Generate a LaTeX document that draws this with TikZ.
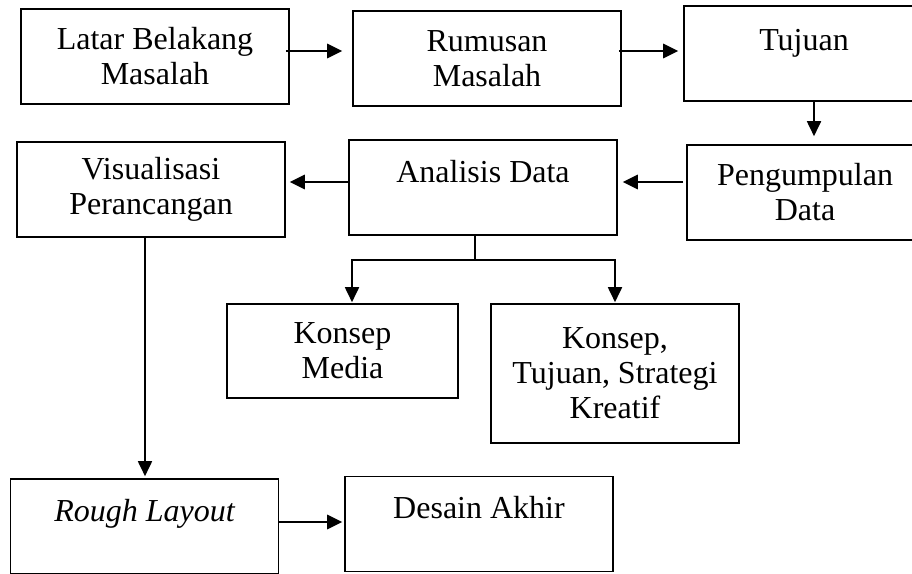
\documentclass[tikz,border=0pt]{standalone}
\usepackage{fontspec}
\setmainfont{Liberation Serif}
\usetikzlibrary{arrows.meta}

\begin{document}
\begin{tikzpicture}
 [
  x = 1pt, y = -1pt,
  >= {Triangle[length=15pt, width=14pt]},
  box/.style    = {draw, line width = 1.6pt, minimum width = 268pt, minimum height = 95pt,
                   inner sep = 0pt, align = center, font = \fontsize{32}{35}\selectfont},
  topbox/.style = {box, text height = 42pt, text depth = 53pt},
  flow/.style   = {->, line width = 2.8pt},
  link/.style   = {->, line width = 1.8pt},
 ]

 % the frame
 \useasboundingbox (0,0) rectangle (912,573);
 \clip (0,0) rectangle (912,573);

 % first row
 \node (latar)    at (155,56.5)  [box] {Latar Belakang\\Masalah};
 \node (rumusan)  at (487,58.5)  [box] {Rumusan\\Masalah};
 \node (tujuan)   at (804,53.5)  [topbox, minimum width = 240pt, text depth = 49pt] {Tujuan};

 % second row
 \node (kumpul)   at (805,192.5) [box, minimum width = 236pt] {Pengumpulan\\Data};
 \node (analisis) at (483,187.5) [topbox] {Analisis Data};
 \node (visual)   at (151,189.5) [box] {Visualisasi\\Perancangan};

 % third row
 \node (media)    at (342.5,351) [box, minimum width = 231pt, minimum height = 94pt] {Konsep\\Media};
 \node (kreatif)  at (615,373.5) [box, minimum width = 248pt, minimum height = 139pt] {Konsep,\\Tujuan, Strategi\\Kreatif};

 % last row
 \node (rough)    at (144.5,526.5) [topbox] {\itshape Rough Layout};
 \node (desain)   at (479,524)     [topbox] {Desain Akhir};

 % arrows along the rows
 \draw[flow, shorten > = 10pt] ([xshift=-4pt, yshift=5.5pt]latar.east) -- ([yshift=5.5pt]latar.east -| rumusan.west);
 \draw[flow, shorten > = 5pt] ([xshift=-3pt, yshift=7.5pt]rumusan.east) -- ([yshift=7.5pt]rumusan.east -| tujuan.west);
 \draw[link, shorten > = 8pt] ([xshift=10pt]tujuan.south) -- ([xshift=10pt]tujuan.south |- kumpul.north);
 \draw[flow, shorten > = 5pt] ([xshift=-3pt, yshift=10.5pt]kumpul.west) -- ([yshift=10.5pt]kumpul.west -| analisis.east);
 \draw[flow, shorten > = 4pt] ([yshift=5.5pt]analisis.west) -- ([yshift=5.5pt]analisis.west -| visual.east);

 % the split under Analisis Data
 \coordinate (split) at (475,260);
 \draw[line width = 1.6pt] ([xshift=-8pt]analisis.south) -- (split);
 \draw[link, shorten > = 1pt] (split) -| ([xshift=9.5pt]media.north);
 \draw[link, shorten > = 1pt] (split) -| (kreatif.north);

 % down to the layout
 \draw[link, shorten > = 2pt] ([xshift=-6pt]visual.south) -- ([xshift=-6pt]visual.south |- rough.north);
 \draw[flow, shorten > = 2pt] ([yshift=4.5pt]rough.east) -- ([yshift=4.5pt]rough.east -| desain.west);
\end{tikzpicture}
\end{document}
